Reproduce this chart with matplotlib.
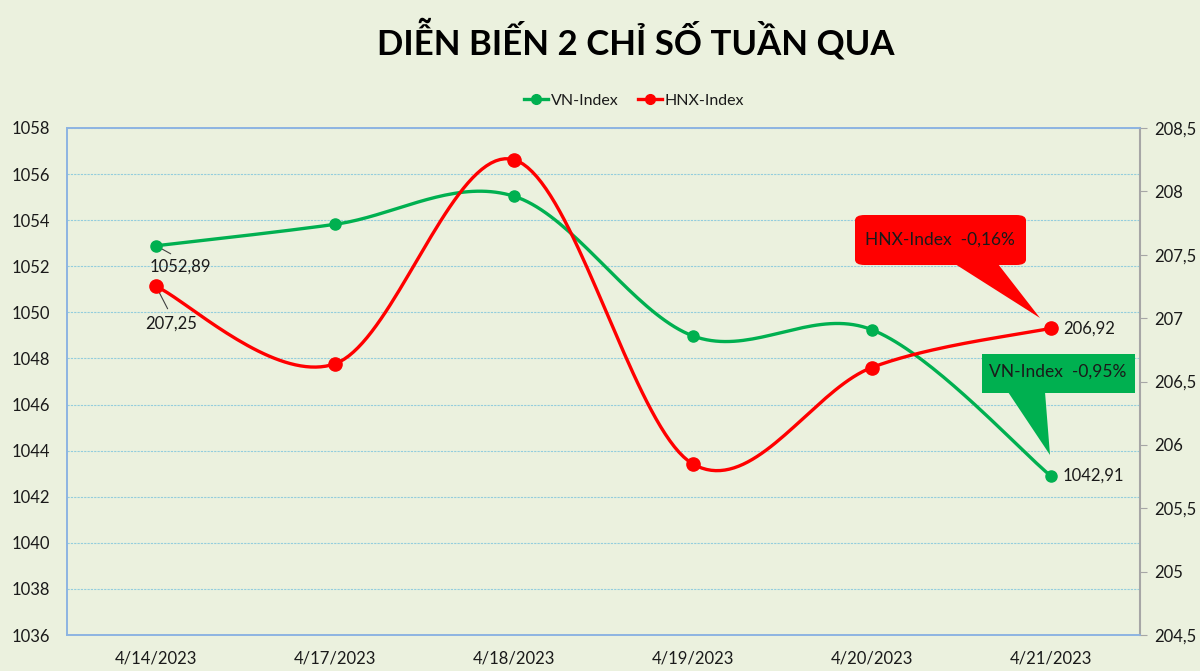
import numpy as np
import matplotlib
matplotlib.use('Agg')
import matplotlib.pyplot as plt
from matplotlib.patches import Polygon, FancyBboxPatch
from matplotlib.lines import Line2D

# data
dates = ['4/14/2023', '4/17/2023', '4/18/2023', '4/19/2023', '4/20/2023', '4/21/2023']
vn_index = [1052.89, 1053.82, 1055.04, 1048.98, 1049.25, 1042.91]
hnx_index = [207.25, 206.64, 208.25, 205.85, 206.61, 206.92]
vn_change = '-0,95%'
hnx_change = '-0,16%'

BG = '#EBF1DE'
GREEN = '#00B050'
RED = '#FF0000'
GRID = '#93CDDD'
TXT = '#1A1A1A'

plt.rcParams['font.family'] = ['Lato', 'DejaVu Sans']


def smooth(xs, ys, n=40):
    """Excel-like smoothed line (Catmull-Rom as cubic Bezier)."""
    pts = np.column_stack([xs, ys]).astype(float)
    ext = np.vstack([pts[0], pts, pts[-1]])
    out = []
    t = np.linspace(0, 1, n)[:, None]
    for i in range(len(pts) - 1):
        p0, p1, p2, p3 = ext[i], ext[i + 1], ext[i + 2], ext[i + 3]
        c1 = p1 + (p2 - p0) / 6
        c2 = p2 - (p3 - p1) / 6
        seg = ((1 - t) ** 3) * p1 + 3 * ((1 - t) ** 2) * t * c1 \
            + 3 * (1 - t) * t ** 2 * c2 + t ** 3 * p2
        out.append(seg if i == 0 else seg[1:])
    seg = np.vstack(out)
    return seg[:, 0], seg[:, 1]


def px(x, y):
    # reference pixel coords (top-left origin) -> figure fraction
    return x / 1200, 1 - y / 671


fig = plt.figure(figsize=(12, 6.71), dpi=100, facecolor=BG)
ax = fig.add_axes([66.7 / 1200, 1 - 635 / 671, (1140 - 66.7) / 1200, (635 - 128) / 671])
ax.set_facecolor(BG)
ax2 = ax.twinx()

x = np.arange(len(dates))

ax.set_xlim(-0.5, len(dates) - 0.5)
ax.set_ylim(1036, 1058)
ax.set_yticks(np.arange(1036, 1059, 2))
right_ticks = np.arange(204.5, 208.6, 0.5)
ax2.set_ylim(204.5, 208.5)
ax2.set_yticks(right_ticks)
ax2.set_yticklabels([f'{v:g}'.replace('.', ',') for v in right_ticks])

ax.set_xticks(x)
ax.set_xticklabels(dates)

ax.grid(axis='y', color=GRID, linestyle=(0, (2, 1)), linewidth=0.8)
ax.set_axisbelow(True)

for a in (ax, ax2):
    for s in a.spines.values():
        s.set_color('#8DB4E2')
        s.set_linewidth(1.2)
ax2.spines['right'].set_color('#A6A6A6')
ax2.spines['right'].set_linewidth(1.5)

ax.tick_params(axis='x', length=0, labelsize=12, colors=TXT, pad=11)
ax.tick_params(axis='y', length=0, labelsize=12, colors=TXT, pad=12)
ax2.tick_params(axis='y', length=5, color='#A6A6A6', labelsize=12,
                labelcolor=TXT, pad=5)

# lines
sx, sy = smooth(x, vn_index)
ax.plot(sx, sy, color=GREEN, lw=2.4, solid_capstyle='round', zorder=3)
ax.plot(x, vn_index, 'o', color=GREEN, ms=8, zorder=4)
hx, hy = smooth(x, hnx_index)
ax2.plot(hx, hy, color=RED, lw=2.4, solid_capstyle='round', zorder=3)
ax2.plot(x, hnx_index, 'o', color=RED, ms=9.5, zorder=4)

# data labels
fmt = lambda v: f'{v:.2f}'.replace('.', ',')
ax.annotate(fmt(vn_index[0]), (x[0], vn_index[0]), xytext=(-5, -15),
            textcoords='offset points', fontsize=12, color=TXT,
            ha='left', va='center',
            arrowprops=dict(arrowstyle='-', color='#404040', lw=0.8,
                            shrinkA=3, shrinkB=0, relpos=(0.49, 1.0)))
ax2.annotate(fmt(hnx_index[0]), (x[0], hnx_index[0]), xytext=(-8, -26.5),
             textcoords='offset points', fontsize=12, color=TXT,
             ha='left', va='center',
             arrowprops=dict(arrowstyle='-', color='#404040', lw=0.8,
                             shrinkA=3, shrinkB=0, relpos=(0.5, 1.0)))
ax2.annotate(fmt(hnx_index[-1]), (x[-1], hnx_index[-1]), xytext=(9, 0),
             textcoords='offset points', fontsize=12, color=TXT,
             va='center', ha='left')
ax.annotate(fmt(vn_index[-1]), (x[-1], vn_index[-1]), xytext=(9, 0),
            textcoords='offset points', fontsize=12, color=TXT,
            va='center', ha='left')

# callouts
tf = fig.transFigure
x0, y0 = px(855, 215)
x1, y1 = px(1026, 265)
fig.patches.append(FancyBboxPatch((x0, y1), x1 - x0, y0 - y1,
                                  boxstyle='round,pad=0,rounding_size=0.008',
                                  transform=tf, fc=RED, ec='none', zorder=5))
fig.patches.append(Polygon([px(955, 264), px(998, 264), px(1040, 318)],
                           closed=True, transform=tf, fc=RED, ec='none', zorder=5))
fig.text(*px(940, 240), f'HNX-Index  {hnx_change}', ha='center', va='center',
         fontsize=12.5, color=TXT, zorder=6)

x0, y0 = px(982, 354)
x1, y1 = px(1135, 393)
fig.patches.append(FancyBboxPatch((x0, y1), x1 - x0, y0 - y1, boxstyle='square,pad=0',
                                  transform=tf, fc=GREEN, ec='none', zorder=5))
fig.patches.append(Polygon([px(1008, 392), px(1045, 392), px(1050, 455)],
                           closed=True, transform=tf, fc=GREEN, ec='none', zorder=5))
fig.text(*px(1058, 372), f'VN-Index  {vn_change}', ha='center', va='center',
         fontsize=12.5, color=TXT, zorder=6)

# legend
handles = [Line2D([], [], color=GREEN, lw=2.4, marker='o', ms=7),
           Line2D([], [], color=RED, lw=2.4, marker='o', ms=7)]
fig.legend(handles, ['VN-Index', 'HNX-Index'], loc='center', bbox_to_anchor=px(634, 101),
           ncol=2, frameon=False, fontsize=11.5, handlelength=1.5, handletextpad=0.15,
           columnspacing=1.2, labelcolor=TXT)

fig.text(*px(636, 40), 'DIỄN BIẾN 2 CHỈ SỐ TUẦN QUA', ha='center', va='center',
         fontsize=25, fontweight='bold', color='black')

fig.savefig('out.png', dpi=100, facecolor=BG)
